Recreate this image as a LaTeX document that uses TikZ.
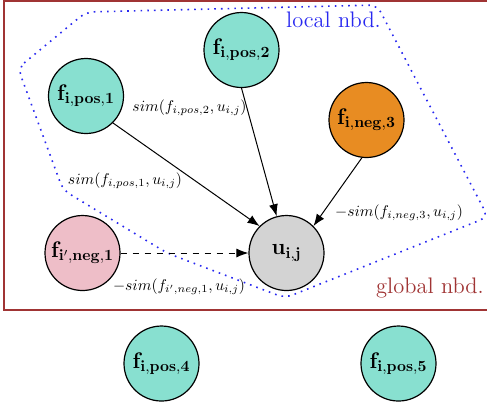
\documentclass[tikz,border=0pt]{standalone}
\usepackage{graphicx}
\usetikzlibrary{arrows.meta}
\newcommand{\myscl}[1]{\scalebox{0.78}{#1}}
\definecolor{posc}{RGB}{136,224,208}
\definecolor{negc}{RGB}{232,140,34}
\definecolor{pinkc}{RGB}{238,190,200}
\definecolor{grayc}{RGB}{211,211,211}
\definecolor{globc}{RGB}{160,52,52}
\definecolor{locc}{RGB}{40,40,240}
\tikzset{
  vert/.style={circle, draw=black, line width=0.6pt, minimum size=37.5pt, inner sep=0pt},
  simlab/.style={inner sep=0pt},
  arr/.style={-{Latex[length=6pt,width=4.5pt]}, line width=0.5pt},
  regionlab/.style={inner sep=0pt}
}
\begin{document}
\begin{tikzpicture}[x=0.5pt,y=-0.5pt]
\useasboundingbox (0,0) rectangle (487,404);
% global neighbourhood
\draw[globc, line width=0.8pt] (4,0.8) rectangle (500,310);
\node[regionlab, text=globc] (glob) at (430,288) {\myscl{\Large global nbd.}};
% local neighbourhood
\draw[locc, line width=0.8pt, dash pattern=on 0.8pt off 2.55pt, rounded corners=4pt]
  (18,68) -- (86,12) -- (377,5) -- (488,217) -- (285,298) -- (167,253) -- (63,190) -- cycle;
\node[regionlab, text=locc] (loc) at (333.5,20) {\myscl{\Large local nbd.}};
% nodes
\node[vert, fill=posc] (f1) at (86,96) {\myscl{\Large$\mathbf{f_{i,pos,1}}$}};
\node[vert, fill=posc] (f2) at (241.5,50) {\myscl{\Large$\mathbf{f_{i,pos,2}}$}};
\node[vert, fill=negc] (f3) at (366.5,120) {\myscl{\Large$\mathbf{f_{i,neg,3}}$}};
\node[vert, fill=grayc] (u) at (286.5,253) {\myscl{\Large$\mathbf{u_{i,j}}$}};
\node[vert, fill=pinkc] (fn) at (82.5,253) {\myscl{\Large$\mathbf{f_{i',neg,1}}$}};
\node[vert, fill=posc] (f4) at (161.5,363.5) {\myscl{\Large$\mathbf{f_{i,pos,4}}$}};
\node[vert, fill=posc] (f5) at (398.5,363.5) {\myscl{\Large$\mathbf{f_{i,pos,5}}$}};
% connectors
\draw[arr] (f1.south east) -- (u.north west);
\draw[arr] (f2.south) -- (u.105);
\draw[arr] (f3.263) -- (u.north east);
\draw[arr, dashed] (fn.east) -- (u.west);
% labels
\node[simlab] (s2) at (189.5,108) {\myscl{$sim(f_{i,pos,2},u_{i,j})$}};
\node[simlab] (s1) at (125,181) {\myscl{$sim(f_{i,pos,1},u_{i,j})$}};
\node[simlab] (s3) at (399,213) {\myscl{$-sim(f_{i,neg,3},u_{i,j})$}};
\node[simlab] (sn) at (179,287) {\myscl{$-sim(f_{i',neg,1},u_{i,j})$}};
\end{tikzpicture}
\end{document}
